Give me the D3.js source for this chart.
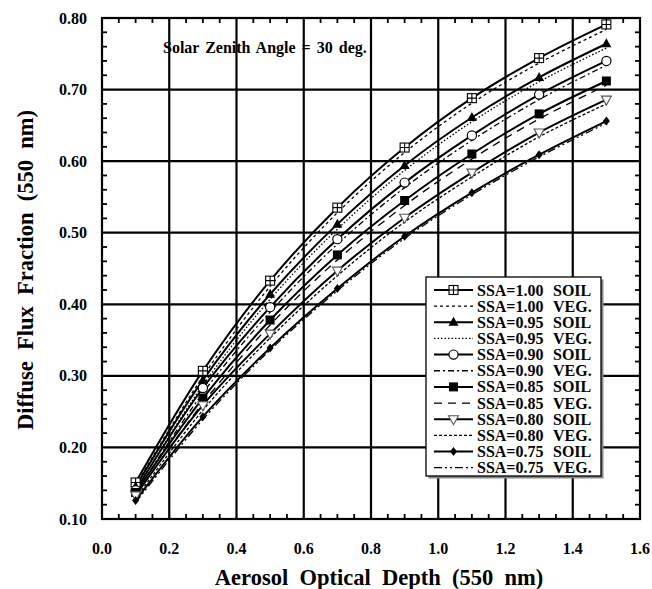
<!DOCTYPE html>
<html>
<head>
<meta charset="utf-8">
<script src="https://cdn.jsdelivr.net/npm/d3@7"></script>
<style>
  html, body { margin: 0; padding: 0; background: #fff; }
</style>
</head>
<body>
<svg id="chart" width="652" height="589" font-family="'Liberation Serif', 'DejaVu Serif', serif" font-weight="bold"></svg>
<script>
// Aerosol optical depth at 550 nm
const aod = [0.1, 0.3, 0.5, 0.7, 0.9, 1.1, 1.3, 1.5];

// Diffuse flux fraction, soil surface
const soil100 = [0.151, 0.307, 0.433, 0.535, 0.619, 0.688, 0.744, 0.791];
const soil095 = [0.145, 0.294, 0.414, 0.512, 0.594, 0.661, 0.717, 0.764];
const soil090 = [0.140, 0.283, 0.396, 0.491, 0.570, 0.636, 0.693, 0.740];
const soil085 = [0.137, 0.269, 0.378, 0.469, 0.545, 0.610, 0.666, 0.712];
const soil080 = [0.133, 0.259, 0.359, 0.447, 0.521, 0.584, 0.640, 0.686];
const soil075 = [0.126, 0.243, 0.339, 0.422, 0.495, 0.556, 0.609, 0.656];

// Diffuse flux fraction, vegetation surface
const veg100 = [0.147, 0.299, 0.425, 0.528, 0.612, 0.681, 0.737, 0.784];
const veg095 = [0.141, 0.287, 0.407, 0.505, 0.587, 0.655, 0.711, 0.758];
const veg090 = [0.136, 0.276, 0.389, 0.484, 0.563, 0.629, 0.686, 0.734];
const veg085 = [0.133, 0.262, 0.371, 0.462, 0.538, 0.603, 0.659, 0.706];
const veg080 = [0.129, 0.252, 0.353, 0.440, 0.515, 0.578, 0.634, 0.680];
const veg075 = [0.123, 0.239, 0.336, 0.419, 0.492, 0.553, 0.606, 0.653];

const ssaLabels = ["1.00", "0.95", "0.90", "0.85", "0.80", "0.75"];
const xTickLabels = ["0.0", "0.2", "0.4", "0.6", "0.8", "1.0", "1.2", "1.4", "1.6"];
const yTickLabels = ["0.10", "0.20", "0.30", "0.40", "0.50", "0.60", "0.70", "0.80"];

const soilSeries = [soil100, soil095, soil090, soil085, soil080, soil075];
const vegSeries = [veg100, veg095, veg090, veg085, veg080, veg075];
const markerKinds = ["crossSquare", "triangle", "circle", "square", "triangleDown", "diamond"];
const vegDash = ["3,3", "1.5,2", "6,3,2,3", "8,6", "3,2", "8,3,2,3,2,3"];

const svg = d3.select("#chart");
const L = 102, R = 640, T = 18, B = 519;
const x = d3.scaleLinear().domain([0, 1.6]).range([L, R]);
const y = d3.scaleLinear().domain([0.1, 0.8]).range([B, T]);

// grid lines at major ticks
const g = svg.append("g");
const xMajor = xTickLabels.map(Number);
const yMajor = yTickLabels.map(Number);
g.selectAll("line.vx").data(xMajor.slice(1, -1)).join("line")
  .attr("x1", d => x(d)).attr("x2", d => x(d)).attr("y1", T).attr("y2", B)
  .attr("stroke", "#000").attr("stroke-width", 2.2);
g.selectAll("line.hy").data(yMajor.slice(1, -1)).join("line")
  .attr("x1", L).attr("x2", R).attr("y1", d => y(d)).attr("y2", d => y(d))
  .attr("stroke", "#000").attr("stroke-width", 2.2);

// minor ticks on all four sides, pointing inward
const xMinor = d3.range(0.05, 1.6, 0.05).filter(v => Math.abs(v / 0.2 - Math.round(v / 0.2)) > 1e-6);
const yMinor = d3.range(0.12, 0.8, 0.02).filter(v => Math.abs(v / 0.1 - Math.round(v / 0.1)) > 1e-6);
const tk = 5;
g.selectAll("line.xb").data(xMinor).join("line")
  .attr("x1", d => x(d)).attr("x2", d => x(d)).attr("y1", B).attr("y2", B - tk)
  .attr("stroke", "#000").attr("stroke-width", 1.8);
g.selectAll("line.xt").data(xMinor).join("line")
  .attr("x1", d => x(d)).attr("x2", d => x(d)).attr("y1", T).attr("y2", T + tk)
  .attr("stroke", "#000").attr("stroke-width", 1.8);
g.selectAll("line.yl").data(yMinor).join("line")
  .attr("x1", L).attr("x2", L + tk).attr("y1", d => y(d)).attr("y2", d => y(d))
  .attr("stroke", "#000").attr("stroke-width", 1.8);
g.selectAll("line.yr").data(yMinor).join("line")
  .attr("x1", R).attr("x2", R - tk).attr("y1", d => y(d)).attr("y2", d => y(d))
  .attr("stroke", "#000").attr("stroke-width", 1.8);

// tick labels
svg.append("g").selectAll("text").data(xTickLabels).join("text")
  .attr("x", d => x(+d)).attr("y", 554).attr("text-anchor", "middle")
  .attr("font-size", 16).text(d => d);
svg.append("g").selectAll("text").data(yTickLabels).join("text")
  .attr("x", 87).attr("y", d => y(+d) + 5.5).attr("text-anchor", "end")
  .attr("font-size", 16).text(d => d);

// curves
const line = d3.line().x((d, i) => x(aod[i])).y(d => y(d)).curve(d3.curveCatmullRom.alpha(0.5));
const curves = svg.append("g");
vegSeries.forEach((s, k) => {
  curves.append("path").attr("d", line(s)).attr("fill", "none")
    .attr("stroke", "#000").attr("stroke-width", 1.3).attr("stroke-dasharray", vegDash[k]);
});
soilSeries.forEach((s) => {
  curves.append("path").attr("d", line(s)).attr("fill", "none")
    .attr("stroke", "#000").attr("stroke-width", 2);
});

function drawMarker(sel, kind, cx, cy) {
  const s = 4.5;
  if (kind === "crossSquare") {
    sel.append("rect").attr("x", cx - s).attr("y", cy - s).attr("width", 2 * s).attr("height", 2 * s)
      .attr("fill", "#fff").attr("stroke", "#000").attr("stroke-width", 1.1);
    sel.append("path").attr("d", `M${cx - s},${cy}H${cx + s}M${cx},${cy - s}V${cy + s}`)
      .attr("stroke", "#000").attr("stroke-width", 1.1);
  } else if (kind === "triangle") {
    sel.append("path").attr("d", `M${cx},${cy - 5.5}L${cx + 5},${cy + 3.5}L${cx - 5},${cy + 3.5}Z`)
      .attr("fill", "#000");
  } else if (kind === "circle") {
    sel.append("circle").attr("cx", cx).attr("cy", cy).attr("r", 4.6)
      .attr("fill", "#fff").attr("stroke", "#000").attr("stroke-width", 1.2);
  } else if (kind === "square") {
    sel.append("rect").attr("x", cx - 4.5).attr("y", cy - 4.5).attr("width", 9).attr("height", 9)
      .attr("fill", "#000");
  } else if (kind === "triangleDown") {
    sel.append("path").attr("d", `M${cx - 5},${cy - 3.5}L${cx + 5},${cy - 3.5}L${cx},${cy + 5.5}Z`)
      .attr("fill", "#fff").attr("stroke", "#555").attr("stroke-width", 1.1);
  } else if (kind === "diamond") {
    sel.append("path").attr("d", `M${cx},${cy - 4.5}L${cx + 3.5},${cy}L${cx},${cy + 4.5}L${cx - 3.5},${cy}Z`)
      .attr("fill", "#000");
  }
}

const marks = svg.append("g");
soilSeries.forEach((s, k) => {
  s.forEach((v, i) => drawMarker(marks.append("g"), markerKinds[k], x(aod[i]), y(v)));
});

// annotation
svg.append("text").attr("x", 163).attr("y", 53).attr("font-size", 16)
  .attr("word-spacing", 2)
  .text("Solar Zenith Angle = 30 deg.");

// legend
const lg = svg.append("g");
const lx = 426, ly = 277, lw = 175, lh = 199;
lg.append("rect").attr("x", lx + 2.5).attr("y", ly + 2.5).attr("width", lw).attr("height", lh).attr("fill", "#888");
lg.append("rect").attr("x", lx).attr("y", ly).attr("width", lw).attr("height", lh)
  .attr("fill", "#fff").attr("stroke", "#000").attr("stroke-width", 1.3);
ssaLabels.forEach((lab, k) => {
  [0, 1].forEach(j => {
    const row = k * 2 + j;
    const cy = 290 + row * 16.15;
    const seg = lg.append("line").attr("x1", 434).attr("x2", 473).attr("y1", cy).attr("y2", cy)
      .attr("stroke", "#000");
    if (j === 0) {
      seg.attr("stroke-width", 2);
      drawMarker(lg.append("g"), markerKinds[k], 453.5, cy);
    } else {
      seg.attr("stroke-width", 1.3).attr("stroke-dasharray", vegDash[k]);
    }
    lg.append("text").attr("x", 477).attr("y", cy + 5.5).attr("font-size", 16).text("SSA=" + lab);
    lg.append("text").attr("x", 553).attr("y", cy + 5.5).attr("font-size", 16).text(j === 0 ? "SOIL" : "VEG.");
  });
});

// axis titles
svg.append("text").attr("x", 379).attr("y", 585).attr("text-anchor", "middle").attr("font-size", 22.5)
  .style("white-space", "pre").text("Aerosol  Optical  Depth  (550  nm)");
svg.append("text").attr("transform", "translate(33,270) rotate(-90)").attr("text-anchor", "middle")
  .attr("font-size", 22.5).style("white-space", "pre")
  .text("Diffuse  Flux  Fraction  (550  nm)");

// plot frame
svg.append("rect").attr("x", L).attr("y", T).attr("width", R - L).attr("height", B - T)
  .attr("fill", "none").attr("stroke", "#000").attr("stroke-width", 2.2);
</script>
</body>
</html>
